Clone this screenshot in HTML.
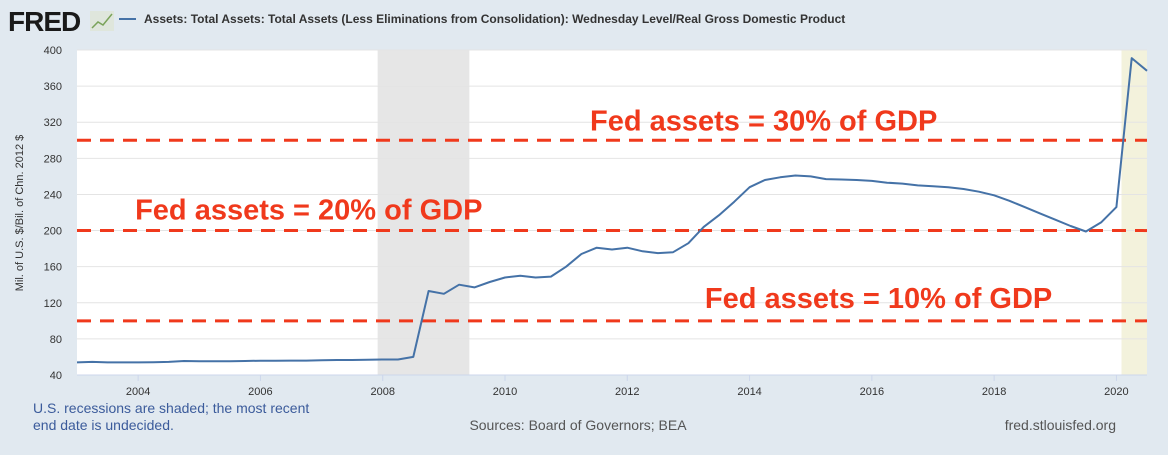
<!DOCTYPE html>
<html><head><meta charset="utf-8"><style>
body{margin:0;width:1168px;height:450px;background:#e1e9f0;font-family:"Liberation Sans",Arial,sans-serif;overflow:hidden}
</style></head><body>
<svg id="c" width="1168" height="450" xmlns="http://www.w3.org/2000/svg">
<text x="8" y="31" font-size="28" font-weight="bold" fill="#1a1a1a" letter-spacing="-1">FRED</text>
<g><rect x="90" y="11" width="24" height="20" fill="#dfe6dc"/><polyline points="92,28 98,22 103,25 112,14" fill="none" stroke="#7aa35a" stroke-width="1.5"/></g>
<line x1="119" y1="19" x2="136" y2="19" stroke="#4572a7" stroke-width="2"/>
<text x="144" y="23" font-size="12" font-weight="bold" fill="#333">Assets: Total Assets: Total Assets (Less Eliminations from Consolidation): Wednesday Level/Real Gross Domestic Product</text>
<text transform="translate(23,213) rotate(-90)" text-anchor="middle" font-size="11" fill="#333">Mil. of U.S. $/Bil. of Chn. 2012 $</text>
<g id="plot"></g>
<text x="33" y="413" font-size="14" fill="#3b5b9b">U.S. recessions are shaded; the most recent</text>
<text x="33" y="430" font-size="14" fill="#3b5b9b">end date is undecided.</text>
<text x="578" y="430" text-anchor="middle" font-size="14" fill="#555">Sources: Board of Governors; BEA</text>
<text x="1116" y="430" text-anchor="end" font-size="14" fill="#555">fred.stlouisfed.org</text>
</svg>
<script>
const yTicks=[40,80,120,160,200,240,280,320,360,400];
const xTickYears=[2004,2006,2008,2010,2012,2014,2016,2018,2020];
const startYear=2003.0;
const values=[54,54.5,54,54,54,54.2,54.5,55.5,55.2,55.2,55.3,55.5,55.8,55.7,55.9,56,56.3,56.6,56.6,56.8,57.2,57.2,60,133,130,140,137,143,148,150,148,149,160,174,181,179,181,177,175,176,186,204,217,232,248,256,259,261,260,257,256.5,256,255,253,252,250,249,248,246,243,239,233,226,219,212,205,199,209,226,391,377];
const recessions=[[2007.917,2009.417],[2020.083,2020.6]];
const refLines=[100,200,300];
const annotations=[["Fed assets = 30% of GDP",2011.39,311],["Fed assets = 20% of GDP",2003.95,212],["Fed assets = 10% of GDP",2013.27,114]];
const L=77,R=1147,T=50,B=375,Y0=40,Y1=400,X0=2003.0,X1=2020.5;
const xs=v=>L+(v-X0)/(X1-X0)*(R-L);
const ys=v=>B-(v-Y0)/(Y1-Y0)*(B-T);
const NS="http://www.w3.org/2000/svg";
const g=document.getElementById('plot');
function mk(t,a){const e=document.createElementNS(NS,t);for(const k in a)e.setAttribute(k,a[k]);g.appendChild(e);return e;}
let e=mk('rect',{x:L,y:T,width:R-L,height:B-T,fill:'#fff'});


recessions.forEach(r=>{const a=xs(r[0]),b=Math.min(xs(r[1]),R);
const el=mk('rect',{x:a,y:T,width:b-a,height:B-T,fill:r[0]>2020?'#f3f2dc':'#e6e6e6'});

});
yTicks.forEach(v=>{const y=ys(v);
const ln=mk('line',{x1:L,x2:R,y1:y,y2:y,stroke:'#e4e4e4','stroke-width':1});


const t=mk('text',{x:62,y:y+4,'text-anchor':'end','font-size':11,fill:'#333'});t.textContent=v;

});
xTickYears.forEach(v=>{const x=xs(v);
const tk=mk('line',{x1:x,x2:x,y1:B,y2:B+6,stroke:'#ccd6eb'});


const t=mk('text',{x:x,y:395,'text-anchor':'middle','font-size':11,fill:'#333'});t.textContent=v;

});
const ax=mk('line',{x1:L,x2:R,y1:B,y2:B,stroke:'#ccd6eb'});


refLines.forEach(v=>{const l=mk('line',{x1:L,x2:R,y1:ys(v),y2:ys(v),stroke:'#f0391c','stroke-width':3,'stroke-dasharray':'14 9'});

});
const pts=values.map((v,i)=>xs(startYear+i*0.25).toFixed(1)+','+ys(v).toFixed(1)).join(' ');
const s=mk('polyline',{points:pts,fill:'none',stroke:'#4572a7','stroke-width':2,'stroke-linejoin':'round'});


annotations.forEach(a=>{const t=mk('text',{x:xs(a[1]),y:ys(a[2]),'font-size':29,'font-weight':'bold',fill:'#f0391c'});t.textContent=a[0];

});
</script>
</body></html>
